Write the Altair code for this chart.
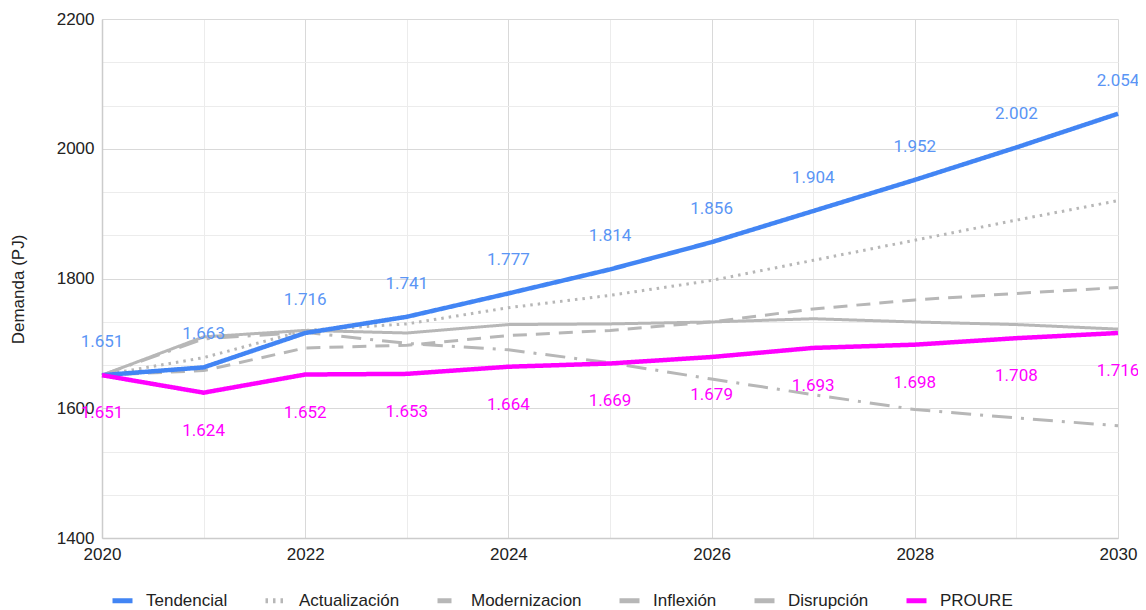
import altair as alt
import pandas as pd

years = list(range(2020, 2031))
tendencial = [1651, 1663, 1716, 1741, 1777, 1814, 1856, 1904, 1952, 2002, 2054]
actualizacion = [1651, 1678, 1720, 1730, 1755, 1774, 1797, 1828, 1859, 1890, 1920]
modernizacion = [1651, 1658, 1693, 1697, 1712, 1720, 1733, 1753, 1767, 1777, 1786]
inflexion = [1651, 1710, 1720, 1716, 1729, 1730, 1733, 1738, 1733, 1729, 1722]
disrupcion = [1651, 1707, 1717, 1700, 1690, 1670, 1645, 1621, 1598, 1585, 1573]
proure = [1651, 1624, 1652, 1653, 1664, 1669, 1679, 1693, 1698, 1708, 1716]

series_names = ["Tendencial", "Actualización", "Modernizacion", "Inflexión", "Disrupción", "PROURE"]
series_values = [tendencial, actualizacion, modernizacion, inflexion, disrupcion, proure]
series_colors = ["#4285F4", "#B7B7B7", "#B7B7B7", "#B7B7B7", "#B7B7B7", "#FF00FF"]
series_dash = [[1, 0], [2.5, 5], [14, 9], [1, 0], [20, 9, 3, 9], [1, 0]]

y_ticks = [1400 + i * 200 / 3 for i in range(13)]

rows = []
for name, vals in zip(series_names, series_values):
    for yr, v in zip(years, vals):
        rows.append({"year": yr, "value": v, "series": name,
                     "label": f"{v:,}".replace(",", ".")})
df = pd.DataFrame(rows)

grey_names = ["Actualización", "Modernizacion", "Inflexión", "Disrupción"]
main_names = ["Tendencial", "PROURE"]

legend = alt.Legend(
    title=None, orient="none", direction="horizontal", legendX=8, legendY=569,
    symbolType="stroke", symbolStrokeWidth=5, symbolSize=400,
    labelFont="Liberation Sans", labelFontSize=17, labelColor="#222222",
    labelOffset=11, columnPadding=27,
)

x_enc = alt.X(
    "year:Q", title=None,
    scale=alt.Scale(domain=[2020, 2030], nice=False, zero=False),
    axis=alt.Axis(
        values=years, format="d",
        labelExpr="datum.value % 2 === 0 ? datum.label : ''",
        ticks=False, labelFlush=False, labelOverlap=False, labelPadding=8,
        labelFont="Liberation Sans", labelFontSize=17, labelColor="#222222",
        domainColor="#cccccc", domainWidth=1.5,
        gridColor={"condition": {"test": "datum.value % 2 === 0", "value": "#d9d9d9"},
                   "value": "#ececec"},
    ),
)
y_enc = alt.Y(
    "value:Q", title="Demanda (PJ)",
    scale=alt.Scale(domain=[1400, 2200], nice=False, zero=False),
    axis=alt.Axis(
        values=y_ticks,
        labelExpr="datum.value % 200 === 0 ? format(datum.value, 'd') : ''",
        ticks=False, labelFlush=False, labelOverlap=False, labelPadding=8,
        labelFont="Liberation Sans", labelFontSize=17, labelColor="#222222",
        domainColor="#cccccc", domainWidth=1.5,
        gridColor={"condition": {"test": "datum.value % 200 === 0", "value": "#d9d9d9"},
                   "value": "#ececec"},
        titleFont="Liberation Sans", titleFontSize=17, titleFontWeight="normal",
        titleColor="#222222", titleAngle=-90, titleX=-84, titleY=270,
        titleAlign="center", titleBaseline="middle",
    ),
)

base = alt.Chart(df).encode(
    x=x_enc,
    y=y_enc,
    color=alt.Color("series:N", scale=alt.Scale(domain=series_names, range=series_colors),
                    legend=legend, title=None),
    strokeDash=alt.StrokeDash("series:N", scale=alt.Scale(domain=series_names, range=series_dash),
                              legend=legend, title=None),
)

grey_lines = base.transform_filter(
    alt.FieldOneOfPredicate(field="series", oneOf=grey_names)
).mark_line(strokeWidth=3, strokeJoin="round")

main_lines = base.transform_filter(
    alt.FieldOneOfPredicate(field="series", oneOf=main_names)
).mark_line(strokeWidth=4.5, strokeJoin="round")

tend_labels = alt.Chart(df).transform_filter(
    alt.datum.series == "Tendencial"
).mark_text(font="Roboto", fontSize=17, color="#5A95F5", dy=-33, baseline="middle", align="center").encode(
    x="year:Q", y="value:Q", text="label:N"
)
proure_labels = alt.Chart(df).transform_filter(
    alt.datum.series == "PROURE"
).mark_text(font="Roboto", fontSize=17, color="#FF00FF", dy=38, baseline="middle", align="center").encode(
    x="year:Q", y="value:Q", text="label:N"
)

chart = alt.layer(grey_lines, main_lines, tend_labels, proure_labels).properties(
    width=1016, height=519,
    autosize=alt.AutoSizeParams(type="none"),
    padding={"left": 94, "top": 11, "right": 20, "bottom": 72},
).configure_view(stroke=None)

chart.save("out.html", embed_options={"renderer": "svg", "actions": False})
